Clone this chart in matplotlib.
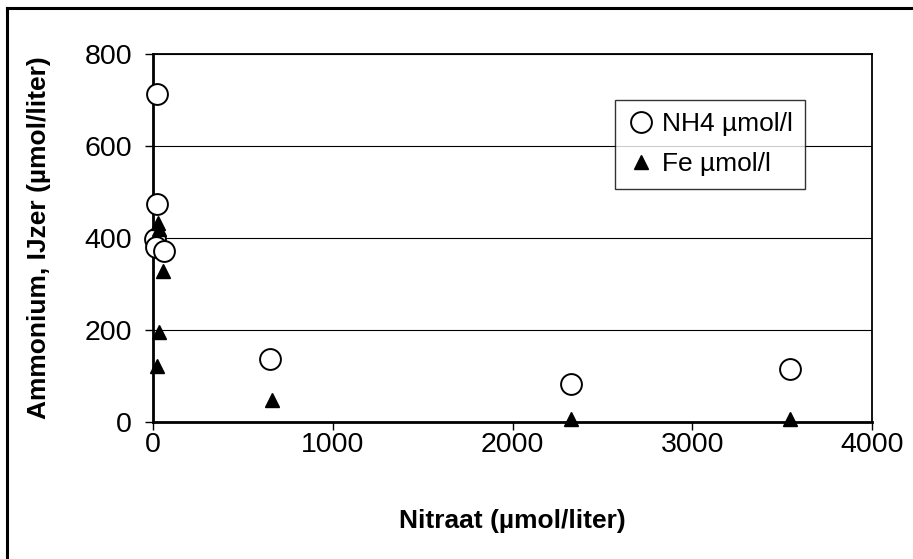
import matplotlib
matplotlib.use("Agg")
import matplotlib.pyplot as plt
from matplotlib.lines import Line2D

plt.rcParams['font.family'] = ['Liberation Sans', 'DejaVu Sans']

# NH4 (umol/l) against nitraat
nh4_x = [22, 22, 11, 17, 63, 651, 2325, 3544]
nh4_y = [714, 475, 397, 380, 372, 137, 82, 116]

# Fe (umol/l) against nitraat
fe_x = [26, 35, 57, 35, 20, 662, 2325, 3544]
fe_y = [433, 419, 328, 195, 122, 48, 6, 6]

xticks = [0, 1000, 2000, 3000, 4000]
yticks = [0, 200, 400, 600, 800]

fig = plt.figure(figsize=(9.13, 5.59), dpi=100)
ax = fig.add_axes([153/913, 1-422/559, (872-153)/913, (422-54)/559])

ax.plot(nh4_x, nh4_y, linestyle='none', marker='o', markersize=15,
        markerfacecolor='white', markeredgecolor='black', markeredgewidth=1.4,
        label='NH4 \u00b5mol/l', zorder=3, clip_on=False)
ax.plot(fe_x, fe_y, linestyle='none', marker='^', markersize=10,
        color='black', label='Fe \u00b5mol/l', zorder=4, clip_on=False)

ax.set_xlim(0, 4000)
ax.set_ylim(0, 800)
ax.set_xticks(xticks)
ax.set_yticks(yticks)
ax.yaxis.grid(True, color='black', linewidth=0.8)
ax.set_axisbelow(True)

ax.tick_params(direction='out', length=6, width=1, labelsize=20.5, pad=1)
ax.tick_params(axis='y', pad=9)
for s in ['left', 'bottom']:
    ax.spines[s].set_linewidth(2)
for s in ['top', 'right']:
    ax.spines[s].set_linewidth(1.3)

ax.set_xlabel('Nitraat (\u00b5mol/liter)', fontsize=19, fontweight='bold', labelpad=37)
ax.set_ylabel('Ammonium, IJzer (\u00b5mol/liter)', fontsize=19, fontweight='bold', labelpad=24)

leg = ax.legend(loc='upper right', bbox_to_anchor=((805-153)/719, (422-100)/368),
                fontsize=19, frameon=True, fancybox=False, edgecolor='black',
                borderpad=0.47, handletextpad=0.3, handlelength=1.0, labelspacing=0.61,
                borderaxespad=0)
leg.get_frame().set_linewidth(1)

# outer chart border (only left and top visible)
fig.add_artist(Line2D([7/913, 7/913], [0, 1-8/559], color='black', linewidth=2.2))
fig.add_artist(Line2D([7/913, 1], [1-8/559, 1-8/559], color='black', linewidth=2.2))

fig.savefig('out.png', dpi=100)
